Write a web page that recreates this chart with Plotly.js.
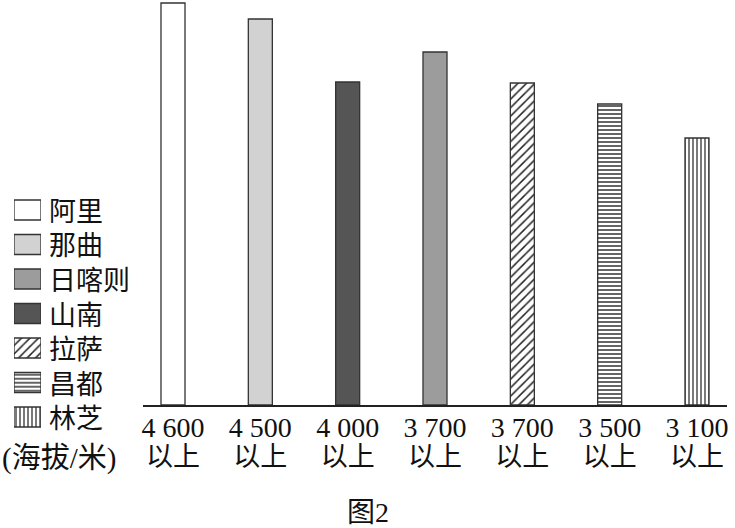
<!DOCTYPE html>
<html>
<head>
<meta charset="utf-8">
<script src="https://cdn.plot.ly/plotly-3.0.1.min.js"></script>
<style>html,body{margin:0;padding:0;background:#fff;}#chart{width:735px;height:528px;}</style>
</head>
<body>
<div id="chart"></div>
<script>
// Bars in left-to-right order
const barRegions = ['阿里', '那曲', '山南', '日喀则', '拉萨', '昌都', '林芝'];
const altitudeLabels = ['4 600', '4 500', '4 000', '3 700', '3 700', '3 500', '3 100'];
const suffixLabel = '以上';
const barValues = [402, 386, 323, 353, 322, 301, 267];
// Legend order (top to bottom)
const legendOrder = ['阿里', '那曲', '日喀则', '山南', '拉萨', '昌都', '林芝'];
const unitLabel = '(海拔/米)';
const figureTitle = '图2';

const styles = {
  '阿里':  {color: '#ffffff', pattern: {shape: ''}},
  '那曲':  {color: '#d2d2d2', pattern: {shape: ''}},
  '日喀则': {color: '#9c9c9c', pattern: {shape: ''}},
  '山南':  {color: '#555555', pattern: {shape: ''}},
  '拉萨':  {color: '#ffffff', pattern: {shape: '/', fgcolor: '#222', bgcolor: '#fff', size: 6, solidity: 0.25}},
  '昌都':  {color: '#ffffff', pattern: {shape: '-', fgcolor: '#222', bgcolor: '#fff', size: 4, solidity: 0.35}},
  '林芝':  {color: '#ffffff', pattern: {shape: '|', fgcolor: '#222', bgcolor: '#fff', size: 4, solidity: 0.3}}
};

const FONT = 'Liberation Serif, "Noto Sans CJK SC", serif';
const W = 735, H = 528;

// main bars
const traces = barRegions.map((r, i) => ({
  type: 'bar', name: r,
  x: [i], y: [barValues[i]],
  width: 0.275,
  xaxis: 'x', yaxis: 'y',
  marker: {color: styles[r].color, pattern: styles[r].pattern, line: {color: '#333', width: 1.3}},
  showlegend: false, hoverinfo: 'skip'
}));

// legend swatches (drawn as a small bar subplot)
legendOrder.forEach((r, k) => {
  traces.push({
    type: 'bar', orientation: 'h', name: r,
    x: [1], y: [k], width: 0.58,
    xaxis: 'x2', yaxis: 'y2', cliponaxis: false,
    marker: {color: styles[r].color, pattern: styles[r].pattern, line: {color: '#333', width: 1.3}},
    showlegend: false, hoverinfo: 'skip'
  });
});

// two-line tick labels: altitude + 以上
const tickText = altitudeLabels.map(a =>
  '<span style="font-size:28px">' + a + '</span><br><span style="font-size:27px">' + suffixLabel + '</span>');

const annotations = [];
legendOrder.forEach((r, k) => annotations.push({
  x: 1, xref: 'x2', y: k, yref: 'y2',
  xanchor: 'left', yanchor: 'middle', xshift: 7, yshift: -2, borderpad: 0,
  text: r, showarrow: false,
  font: {family: FONT, size: 27, color: '#111'}
}));
annotations.push({
  x: 0, xref: 'paper', xanchor: 'left',
  y: 1 - 458 / H, yref: 'paper', yanchor: 'middle',
  text: unitLabel, showarrow: false,
  font: {family: FONT, size: 29, color: '#111'}
});

const rowTop = 210 - 17.25, rowBot = 417 + 17.25;

const layout = {
  width: W, height: H,
  margin: {l: 0, r: 0, t: 0, b: 0},
  paper_bgcolor: '#fff', plot_bgcolor: 'rgba(0,0,0,0)',
  barmode: 'overlay',
  showlegend: false,
  title: {
    text: figureTitle, xref: 'container', yref: 'container',
    x: 368 / W, y: 1 - 512 / H, xanchor: 'center', yanchor: 'middle',
    font: {family: FONT, size: 28, color: '#111'}
  },
  xaxis: {
    domain: [143 / W, 727 / W], anchor: 'y',
    type: 'linear', range: [-0.3435, 6.3435],
    tickvals: altitudeLabels.map((_, i) => i), ticktext: tickText,
    showline: true, linecolor: '#222', linewidth: 1.5,
    showgrid: false, zeroline: false, ticks: '', ticklabelstandoff: 4,
    tickfont: {family: FONT, size: 22, color: '#111'},
    fixedrange: true
  },
  yaxis: {domain: [1 - 405 / H, 1], anchor: 'x', visible: false, range: [0, 405], fixedrange: true},
  xaxis2: {domain: [14 / W, 41 / W], anchor: 'y2', range: [0, 1], visible: false, fixedrange: true},
  yaxis2: {domain: [1 - rowBot / H, 1 - rowTop / H], anchor: 'x2', range: [6.5, -0.5], visible: false, fixedrange: true},
  annotations: annotations
};

Plotly.newPlot('chart', traces, layout, {displayModeBar: false, staticPlot: true});
</script>
</body>
</html>
